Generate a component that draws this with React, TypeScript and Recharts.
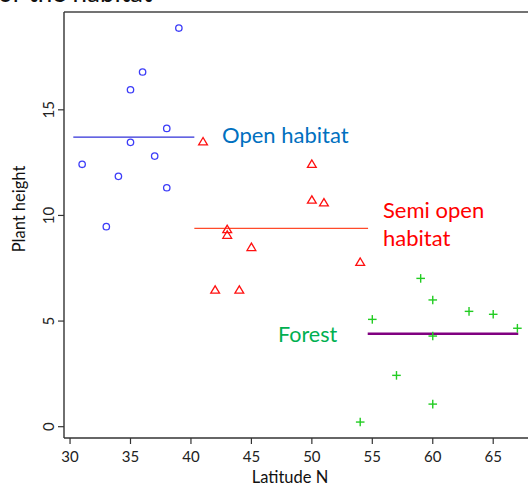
import React from 'react';
import {
  ScatterChart,
  Scatter,
  XAxis,
  YAxis,
  ReferenceLine,
} from 'recharts';

// Open habitat (blue circles)
const openLat = [39, 36, 35, 38, 35, 31, 37, 34, 38, 33];
const openHeight = [18.87, 16.79, 15.95, 14.12, 13.46, 12.42, 12.81, 11.85, 11.31, 9.47];

// Semi open habitat (red triangles)
const semiLat = [41, 43, 43, 45, 50, 50, 51, 54, 42, 44];
const semiHeight = [13.49, 9.34, 9.07, 8.49, 12.43, 10.73, 10.6, 7.79, 6.47, 6.47];

// Forest (green crosses)
const forestLat = [59, 60, 63, 65, 55, 67, 60, 57, 60, 54];
const forestHeight = [7.02, 6.0, 5.46, 5.32, 5.08, 4.66, 4.29, 2.43, 1.07, 0.22];

// group mean segments
const meanStart = [30.27, 40.28, 54.62];
const meanEnd = [40.28, 54.65, 67.07];
const meanValue = [13.71, 9.39, 4.4];
const meanColor = ['#3030d8', '#ff4a2a', '#800080'];
const meanWidth = [1.3, 1.3, 2.6];

const xTicks = [30, 35, 40, 45, 50, 55, 60, 65];
const yTicks = [0, 5, 10, 15];
const xDomain: [number, number] = [29.5, 68.87];
const yDomain: [number, number] = [-0.535, 19.63];

const FONT = 'Lato, "Open Sans", sans-serif';
const AXIS = '#333';

const toPoints = (xs: number[], ys: number[]) => xs.map((x, i) => ({ x, y: ys[i] }));

const CircleShape = (p: any) => (
  <circle cx={p.cx} cy={p.cy} r={3.2} fill="none" stroke="#3c3cf8" strokeWidth={1.3} />
);

const TriangleShape = (p: any) => {
  const { cx, cy } = p;
  const pts = `${cx},${cy - 4.2} ${cx - 4.4},${cy + 3.2} ${cx + 4.4},${cy + 3.2}`;
  return <polygon points={pts} fill="none" stroke="#ff1010" strokeWidth={1.3} />;
};

const PlusShape = (p: any) => {
  const { cx, cy } = p;
  const s = 4.3;
  return (
    <g stroke="#22cc22" strokeWidth={1.4}>
      <line x1={cx - s} y1={cy} x2={cx + s} y2={cy} />
      <line x1={cx} y1={cy - s} x2={cx} y2={cy + s} />
    </g>
  );
};

const XTick = (p: any) => (
  <text
    x={p.x}
    y={p.y + 10}
    textAnchor="middle"
    dominantBaseline="central"
    fontFamily={FONT}
    fontSize={15}
    fill="#222"
  >
    {p.payload.value}
  </text>
);

const YTick = (p: any) => (
  <text
    transform={`translate(${p.x - 8}, ${p.y}) rotate(-90)`}
    textAnchor="middle"
    dominantBaseline="central"
    fontFamily={FONT}
    fontSize={15}
    fill="#222"
  >
    {p.payload.value}
  </text>
);

export default function App() {
  return (
    <div
      style={{
        position: 'absolute',
        left: 0,
        top: 0,
        width: 528,
        height: 489,
        overflow: 'hidden',
        background: '#fff',
        fontFamily: FONT,
      }}
    >
      <ScatterChart
        width={560}
        height={489}
        margin={{ top: 12, right: 20, bottom: 0, left: 0 }}
      >
        <XAxis
          type="number"
          dataKey="x"
          domain={xDomain}
          ticks={xTicks}
          allowDataOverflow
          height={51}
          tickSize={6}
          tick={<XTick />}
          axisLine={{ stroke: AXIS, strokeWidth: 1.4 }}
          tickLine={{ stroke: AXIS, strokeWidth: 1.2 }}
        />
        <YAxis
          type="number"
          dataKey="y"
          domain={yDomain}
          ticks={yTicks}
          allowDataOverflow
          width={64}
          tickSize={6}
          tick={<YTick />}
          axisLine={{ stroke: AXIS, strokeWidth: 1.4 }}
          tickLine={{ stroke: AXIS, strokeWidth: 1.2 }}
        />
        <ReferenceLine y={yDomain[1]} stroke="#444" strokeWidth={1.4} ifOverflow="visible" />
        {meanValue.map((v, i) => (
          <ReferenceLine
            key={i}
            segment={[
              { x: meanStart[i], y: v },
              { x: meanEnd[i], y: v },
            ]}
            stroke={meanColor[i]}
            strokeWidth={meanWidth[i]}
          />
        ))}
        <Scatter
          data={toPoints(openLat, openHeight)}
          shape={CircleShape}
          isAnimationActive={false}
        />
        <Scatter
          data={toPoints(semiLat, semiHeight)}
          shape={TriangleShape}
          isAnimationActive={false}
        />
        <Scatter
          data={toPoints(forestLat, forestHeight)}
          shape={PlusShape}
          isAnimationActive={false}
        />
      </ScatterChart>
      <svg
        width={528}
        height={489}
        style={{ position: 'absolute', left: 0, top: 0, pointerEvents: 'none' }}
      >
        <g fontFamily={FONT}>
          <text x={-2} y={2} fontSize={26} fill="#111">
            or the habitat
          </text>
          <text x={222} y={143} fontSize={22} fill="#0070c0">
            Open habitat
          </text>
          <text x={383} y={218} fontSize={22} fill="#ff0000">
            Semi open
          </text>
          <text x={383} y={246} fontSize={22} fill="#ff0000">
            habitat
          </text>
          <text x={278} y={342} fontSize={21.5} fill="#00b050">
            Forest
          </text>
          <text
            transform="translate(19, 209) rotate(-90)"
            textAnchor="middle"
            dominantBaseline="central"
            fontSize={16.5}
            fill="#111"
          >
            Plant height
          </text>
          <text
            x={290}
            y={477}
            textAnchor="middle"
            dominantBaseline="central"
            fontSize={16.5}
            fill="#111"
          >
            Latitude N
          </text>
        </g>
      </svg>
    </div>
  );
}
